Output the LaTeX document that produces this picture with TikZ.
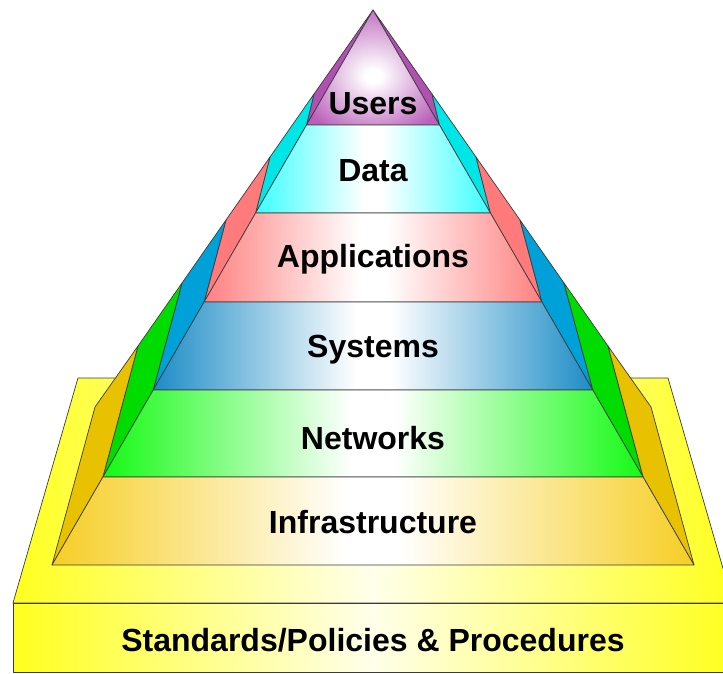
\documentclass[tikz,border=0pt]{standalone}
\usepackage{fontspec}
\setmainfont{Liberation Sans}
\usetikzlibrary{calc}

\definecolor{usersside}{RGB}{176,80,176}
\definecolor{usersfront}{RGB}{186,96,186}
\definecolor{dataside}{RGB}{0,230,230}
\definecolor{datafront}{RGB}{60,255,255}
\definecolor{appsside}{RGB}{255,122,122}
\definecolor{appsfront}{RGB}{255,128,128}
\definecolor{sysside}{RGB}{0,160,216}
\definecolor{sysfront}{RGB}{28,140,198}
\definecolor{netside}{RGB}{0,220,0}
\definecolor{netfront}{RGB}{20,250,20}
\definecolor{infraside}{RGB}{232,194,0}
\definecolor{infrafront}{RGB}{246,206,36}
\definecolor{baseyellow}{RGB}{255,255,30}
\definecolor{baselight}{RGB}{255,255,235}
\definecolor{edgegray}{RGB}{60,60,60}

\pgfdeclareradialshading[layercol]{layerglow}{\pgfpoint{0bp}{-4bp}}{%
  color(0bp)=(white); color(3bp)=(white); color(30bp)=(layercol); color(50bp)=(layercol)}
\pgfdeclarehorizontalshading[layercol]{layerband}{100bp}{%
  color(0bp)=(layercol); color(25bp)=(layercol); color(48bp)=(white);
  color(52bp)=(white); color(75bp)=(layercol); color(100bp)=(layercol)}

\tikzset{
  edge/.style={draw=edgegray, line width=0.7pt, line join=round},
  sideface/.style={edge, fill=#1},
  frontface/.style={edge, /utils/exec={\colorlet{layercol}{#1}}, shading=layerband},
  topface/.style={edge, /utils/exec={\colorlet{layercol}{#1}}, shading=layerglow},
  layerlabel/.style={font=\bfseries\fontsize{32}{38}\selectfont, anchor=base, inner sep=0pt}
}

\begin{document}
\begin{tikzpicture}[x=1pt,y=-1pt]
\useasboundingbox (0,0) rectangle (723,674);
\clip (0,0) rectangle (723,674);

% base platform
\shadedraw[edge, left color=baseyellow, right color=baseyellow, middle color=baselight]
  (78,378)--(668,378)--(733,603)--(13,603)--cycle;
\shadedraw[edge, left color=baseyellow, right color=baseyellow, middle color=baselight]
  (13,603) rectangle (733,672);

% front corners
\coordinate (top) at (373,10);
\coordinate (f1l) at (306.5,125); \coordinate (f1r) at (439.5,125);
\coordinate (f2l) at (255.6,213); \coordinate (f2r) at (490.4,213);
\coordinate (f3l) at (204.1,302); \coordinate (f3r) at (541.9,302);
\coordinate (f4l) at (153.2,390); \coordinate (f4r) at (592.8,390);
\coordinate (f5l) at (102.9,477); \coordinate (f5r) at (643.1,477);
\coordinate (f6l) at (52,565);    \coordinate (f6r) at (694,565);
% back corners
\coordinate (b1l) at (314,94);  \coordinate (b1r) at (432,94);
\coordinate (b2l) at (270,157); \coordinate (b2r) at (476,157);
\coordinate (b3l) at (226,220); \coordinate (b3r) at (520,220);
\coordinate (b4l) at (182,283); \coordinate (b4r) at (564,283);
\coordinate (b5l) at (138,346); \coordinate (b5r) at (608,346);
\coordinate (b6l) at (95,407);  \coordinate (b6r) at (651,407);

% side faces
\filldraw[sideface=usersside](top)--(b1l)--(f1l)--cycle;
\filldraw[sideface=usersside](top)--(b1r)--(f1r)--cycle;
\filldraw[sideface=dataside](b1l)--(b2l)--(f2l)--(f1l)--cycle;
\filldraw[sideface=dataside](b1r)--(b2r)--(f2r)--(f1r)--cycle;
\filldraw[sideface=appsside](b2l)--(b3l)--(f3l)--(f2l)--cycle;
\filldraw[sideface=appsside](b2r)--(b3r)--(f3r)--(f2r)--cycle;
\filldraw[sideface=sysside](b3l)--(b4l)--(f4l)--(f3l)--cycle;
\filldraw[sideface=sysside](b3r)--(b4r)--(f4r)--(f3r)--cycle;
\filldraw[sideface=netside](b4l)--(b5l)--(f5l)--(f4l)--cycle;
\filldraw[sideface=netside](b4r)--(b5r)--(f5r)--(f4r)--cycle;
\filldraw[sideface=infraside](b5l)--(b6l)--(f6l)--(f5l)--cycle;
\filldraw[sideface=infraside](b5r)--(b6r)--(f6r)--(f5r)--cycle;

% front faces
\shadedraw[topface=usersfront](top)--(f1l)--(f1r)--cycle;
\shadedraw[frontface=datafront](f1l)--(f2l)--(f2r)--(f1r)--cycle;
\shadedraw[frontface=appsfront](f2l)--(f3l)--(f3r)--(f2r)--cycle;
\shadedraw[frontface=sysfront](f3l)--(f4l)--(f4r)--(f3r)--cycle;
\shadedraw[frontface=netfront](f4l)--(f5l)--(f5r)--(f4r)--cycle;
\shadedraw[frontface=infrafront](f5l)--(f6l)--(f6r)--(f5r)--cycle;

% labels
\node[layerlabel] (users) at (373,115) {Users};
\node[layerlabel] (data) at (373,182) {Data};
\node[layerlabel] (apps) at (373,267) {Applications};
\node[layerlabel] (systems) at (373,357) {Systems};
\node[layerlabel] (networks) at (373,449) {Networks};
\node[layerlabel] (infra) at (373,533) {Infrastructure};
\node[layerlabel] (standards) at (373,651) {Standards/Policies \& Procedures};

\end{tikzpicture}
\end{document}
